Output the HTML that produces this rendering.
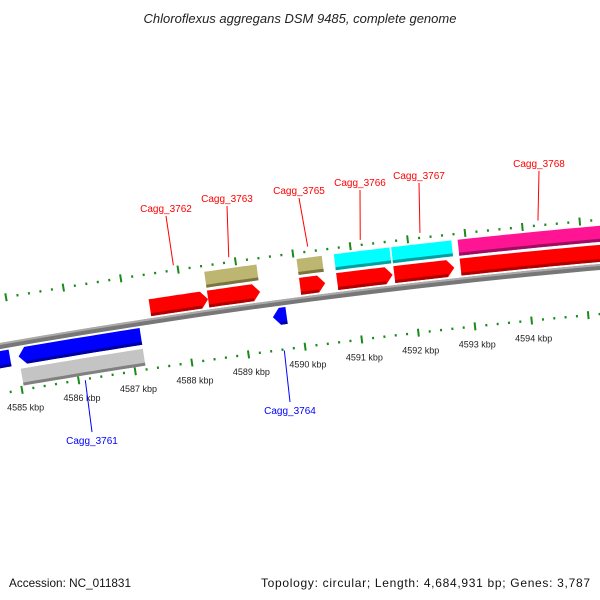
<!DOCTYPE html>
<html><head><meta charset="utf-8"><style>
body{margin:0;background:#fff}
svg{display:block;font-family:"Liberation Sans","DejaVu Sans",sans-serif}
</style></head><body>
<svg id="c" width="600" height="600" viewBox="0 0 600 600">
<text x="300" y="23" text-anchor="middle" font-size="13" font-style="italic" fill="#222">Chloroflexus aggregans DSM 9485, complete genome</text>
<text x="9" y="587" font-size="12" fill="#111" textLength="122" lengthAdjust="spacingAndGlyphs">Accession: NC_011831</text>
<text x="261" y="587" font-size="12" fill="#111" textLength="329" lengthAdjust="spacing">Topology: circular; Length: 4,684,931 bp; Genes: 3,787</text>
<g id="g"></g>
</svg>
<script>
const kbpTicks=[4584,4585,4586,4587,4588,4589,4590,4591,4592,4593,4594,4595];
const geneNames=["Cagg_3761","Cagg_3762","Cagg_3763","Cagg_3764","Cagg_3765","Cagg_3766","Cagg_3767","Cagg_3768"];
const geneStart=[4585.04,4587.42,4588.44,4589.51,4590.05,4590.70,4591.70,4592.86];
const geneEnd=[4587.19,4588.44,4589.35,4589.75,4590.49,4591.67,4592.75,4595.70];
const geneStrand=[-1,1,1,-1,1,1,1,1];
const featColor=["#c4c4c4","none","#bcb670","none","#bcb670","#00ffff","#00ffff","#ff1493"];
const extraStart=[4584.60];const extraEnd=[4584.89];
const labelX=[92,166,227,290,299,360,419,539];
const labelY=[444,212,202,414,194,186,179,167];

const NS="http://www.w3.org/2000/svg";
const G=document.getElementById('g');
function sx(k){return 14+(k-4585)*57;}
function pt(s,off){const y=346-0.175*s+7.2e-5*s*s;const d=-0.175+1.44e-4*s;const L=Math.sqrt(1+d*d);return [s+(-d)/L*off,y+off/L];}
function mk(tag,attrs){const e=document.createElementNS(NS,tag);for(const k in attrs)e.setAttribute(k,attrs[k]);G.appendChild(e);return e;}
function band(a,b,o1,o2,fill,dir,name){
  const pts=[];const n=12;const head=dir?7:0;
  let a2=a,b2=b;if(dir===1)b2=b-head;if(dir===-1)a2=a+head;
  for(let i=0;i<=n;i++)pts.push(pt(a2+(b2-a2)*i/n,o1));
  if(dir===1)pts.push(pt(b,(o1+o2)/2));
  for(let i=n;i>=0;i--)pts.push(pt(a2+(b2-a2)*i/n,o2));
  if(dir===-1)pts.push(pt(a,(o1+o2)/2));
  const e=mk('polygon',{points:pts.map(p=>p[0].toFixed(1)+','+p[1].toFixed(1)).join(' '),fill:fill});
  
  
  return e;
}
function shade(c){return {"#ff0000":"#b00000","#0000ff":"#0000a0","#c4c4c4":"#808080","#bcb670":"#7a7540","#00ffff":"#00a0a0","#ff1493":"#a00c60"}[c]||c;}
band(-20,640,-3,3,"#777","","backbone");
band(-20,640,-3,-1,"#aaa","","backbone-highlight");
[-47,47].forEach((off,ti)=>{
  for(let k=4584;k<=4596;k+=0.2){
    const s=sx(k);if(s<-5||s>610)continue;
    const major=Math.abs(k-Math.round(k))<0.01;
    const h=major?4:1.2;
    const p1=pt(s,off-h),p2=pt(s,off+h);
    const l=mk('line',{x1:p1[0],y1:p1[1],x2:p2[0],y2:p2[1],stroke:"#1a8a1a","stroke-width":2});
    
    
  }
});
kbpTicks.forEach(k=>{
  const p=pt(sx(k),68);if(p[0]<20||p[0]>570)return;
  const t=mk('text',{x:p[0],y:p[1],"font-size":9,"text-anchor":"middle",fill:"#222"});
  t.textContent=k+" kbp";
  
  
});
extraStart.forEach((a,i)=>{const b=extraEnd[i];band(sx(a),sx(b),5,22,"#0000ff",0,"gene-partial");band(sx(a),sx(b),19,22,"#0000a0",0,"gene-partial-shade");});
geneNames.forEach((nm,i)=>{
  const a=sx(geneStart[i]),b=sx(geneEnd[i]),st=geneStrand[i];
  const cds=st>0?"#ff0000":"#0000ff";
  const o1=st>0?-22:5,o2=st>0?-5:22;
  band(a,b,o1,o2,cds,st,"cds-"+nm);
  band(a+(st<0?7:0),b-(st>0?7:0),o2-3,o2,shade(cds),0,"cds-shade-"+nm);
  if(featColor[i]!=="none"){
    const f1=st>0?-41:26,f2=st>0?-25:43;
    band(a,b,f1,f2,featColor[i],0,"feature-"+nm);
    band(a,b,f2-3,f2,shade(featColor[i]),0,"feature-shade-"+nm);
  }
  const col=st>0?"#ff0000":"#0000ff";
  const m=(a+b)/2;const anchor=pt(Math.min(m,560),st>0?-52:48);
  const l=mk('line',{x1:anchor[0],y1:anchor[1],x2:labelX[i],y2:labelY[i]+(st>0?4:-12),stroke:col,"stroke-width":1});
  
  
  const t=mk('text',{x:labelX[i],y:labelY[i],"font-size":10,"text-anchor":"middle",fill:col});
  t.textContent=nm;
  
  
});
</script>
</body></html>
